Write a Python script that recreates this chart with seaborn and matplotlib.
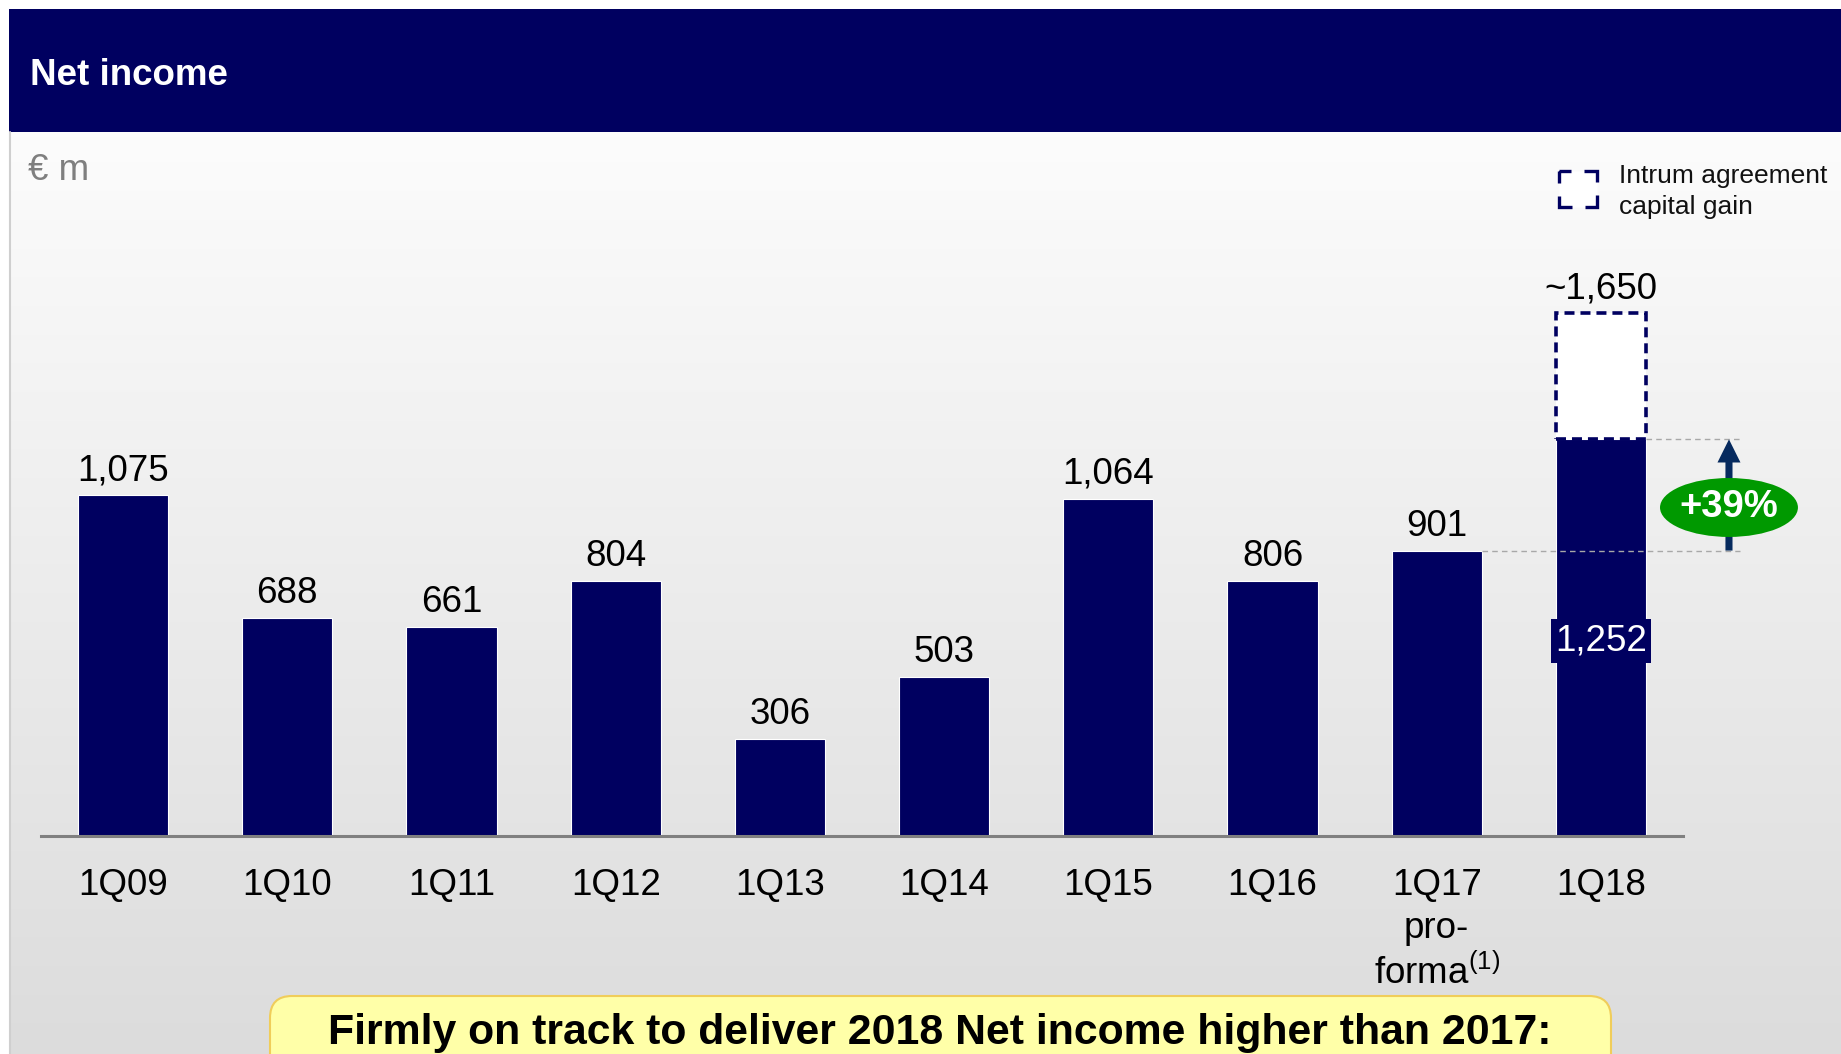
import numpy as np
import pandas as pd
import matplotlib
matplotlib.use("Agg")
import matplotlib.pyplot as plt
from matplotlib.patches import Rectangle, FancyBboxPatch, Ellipse
from matplotlib.colors import LinearSegmentedColormap
import seaborn as sns

# ---- data (EUR m) ----
quarters = ["1Q09", "1Q10", "1Q11", "1Q12", "1Q13", "1Q14", "1Q15", "1Q16", "1Q17", "1Q18"]
tick_labels = ["1Q09", "1Q10", "1Q11", "1Q12", "1Q13", "1Q14", "1Q15", "1Q16",
               "1Q17\npro-\nforma$^{\\mathrm{(1)}}$", "1Q18"]
net_income = [1075, 688, 661, 804, 306, 503, 1064, 806, 901, 1252]
total_with_gain = 1650          # 1Q18 including Intrum agreement capital gain
growth_label = "+39%"           # 1Q18 vs 1Q17 pro-forma

W, H = 1841, 1054
NAVY = "#000060"
FS = 26.5

sns.set_theme(style="white")
plt.rcParams["font.family"] = ["Liberation Sans", "DejaVu Sans"]
plt.rcParams["mathtext.fontset"] = "custom"
plt.rcParams["mathtext.rm"] = "Liberation Sans"
plt.rcParams["mathtext.it"] = "Liberation Sans:italic"
plt.rcParams["mathtext.bf"] = "Liberation Sans:bold"
plt.rcParams["lines.scale_dashes"] = False

fig = plt.figure(figsize=(W / 100, H / 100), dpi=100)
fig.patch.set_facecolor("white")

# ---- slide background, drawn in pixel units ----
bg = fig.add_axes([0, 0, 1, 1], zorder=0)
grad = np.linspace(0, 1, 256).reshape(-1, 1)
panel_cmap = LinearSegmentedColormap.from_list("panel", ["#fcfcfc", "#dcdcdc"])
bg.imshow(grad, cmap=panel_cmap, extent=(10, W, H, 132), aspect="auto",
          interpolation="bilinear")
bg.plot([10, 10], [132, H], color="#cfcfcf", lw=1.5)
bg.add_patch(Rectangle((9, 9), W - 9, 123, facecolor=NAVY, edgecolor="none"))
bg.text(30, 75.5, "Net income", color="white", fontsize=FS, fontweight="bold",
        va="center", ha="left")
bg.text(28, 170.5, "€ m", color="#7f7f7f", fontsize=FS, va="center", ha="left")

# legend marker for the capital gain
bg.add_patch(Rectangle((1559, 171), 38, 36, facecolor="white", edgecolor=NAVY,
                       linewidth=2.4, linestyle=(8.64, (17.28, 9.36))))
bg.text(1619, 164, "Intrum agreement\ncapital gain", fontsize=19, color="#111111",
        va="top", ha="left", linespacing=1.36)

# takeaway box
bg.add_patch(FancyBboxPatch((270, 996), 1341, 120,
                            boxstyle="round,pad=0,rounding_size=22",
                            facecolor="#ffffa8", edgecolor="#f0cd5a", linewidth=1.5))
bg.text(940, 1033, "Firmly on track to deliver 2018 Net income higher than 2017:",
        fontsize=30.8, fontweight="bold", color="black", ha="center", va="center")
bg.set_xlim(0, W)
bg.set_ylim(H, 0)
bg.axis("off")

# ---- bar chart ----
px_per_unit = 0.3168
ymax = 2000
ax = fig.add_axes([41 / W, (H - 836) / H, (1683 - 41) / W, ymax * px_per_unit / H], zorder=1)
ax.patch.set_alpha(0)

df = pd.DataFrame({"quarter": quarters, "net_income": net_income})
bar_w = 0.55
sns.barplot(data=df, x="quarter", y="net_income", color=NAVY, saturation=1,
            width=bar_w, edgecolor="white", linewidth=0.8, ax=ax)

ax.set_xlim(-0.5, 9.5)
ax.set_ylim(0, ymax)
ax.set_xlabel("")
ax.set_ylabel("")
ax.set_yticks([])
ax.set_xticks(range(len(quarters)))
ax.set_xticklabels(tick_labels, fontsize=FS, linespacing=1.3, color="black")
ax.tick_params(axis="x", length=0, pad=23)
for side in ["left", "right", "top"]:
    ax.spines[side].set_visible(False)
ax.spines["bottom"].set_color("#808080")
ax.spines["bottom"].set_linewidth(2.2)

# value labels
for i, v in enumerate(net_income[:-1]):
    ax.annotate(f"{v:,}", (i, v), xytext=(0, 10.8), textcoords="offset points",
                ha="center", va="baseline", fontsize=FS, color="black")

# 1Q18: capital gain on top of the reported figure
last = len(quarters) - 1
ax.bar(last, total_with_gain - net_income[last], bottom=net_income[last], width=bar_w,
       facecolor="white", edgecolor=NAVY, linewidth=2.6,
       linestyle=(0, (7.2, 4.3)), zorder=3)
ax.annotate(f"~{total_with_gain:,}", (last, total_with_gain), xytext=(0, 10.8),
            textcoords="offset points", ha="center", va="baseline", fontsize=FS,
            color="black")
ax.annotate(f"{net_income[last]:,}", (last, net_income[last] / 2), xytext=(0, -2.5),
            textcoords="offset points", color="white", fontsize=FS,
            ha="center", va="center", zorder=4,
            bbox=dict(boxstyle="square,pad=0.12", facecolor=NAVY, edgecolor="none"))

# growth marker vs 1Q17 pro-forma
prev = net_income[last - 1]
cur = net_income[last]
x_arrow = 9.78
ax.plot([last - 1 + bar_w / 2, 9.85], [prev, prev], color="#a8a8a8", lw=1,
        ls=(0, (4, 3)), clip_on=False, zorder=2)
ax.plot([last + bar_w / 2, 9.85], [cur, cur], color="#a8a8a8", lw=1,
        ls=(0, (4, 3)), clip_on=False, zorder=2)
ax.arrow(x_arrow, prev, 0, cur - prev, width=0.043, head_width=0.14, head_length=73,
         length_includes_head=True, facecolor="#062a5e", edgecolor="none",
         clip_on=False, zorder=4)
ax.add_patch(Ellipse((x_arrow, 1037), 0.84, 186, facecolor="#009900",
                     edgecolor="none", clip_on=False, zorder=5))
ax.text(x_arrow, 1037, growth_label, color="white", fontsize=27.5, fontweight="bold",
        ha="center", va="center", zorder=6)

fig.savefig("out.png", dpi=100)
